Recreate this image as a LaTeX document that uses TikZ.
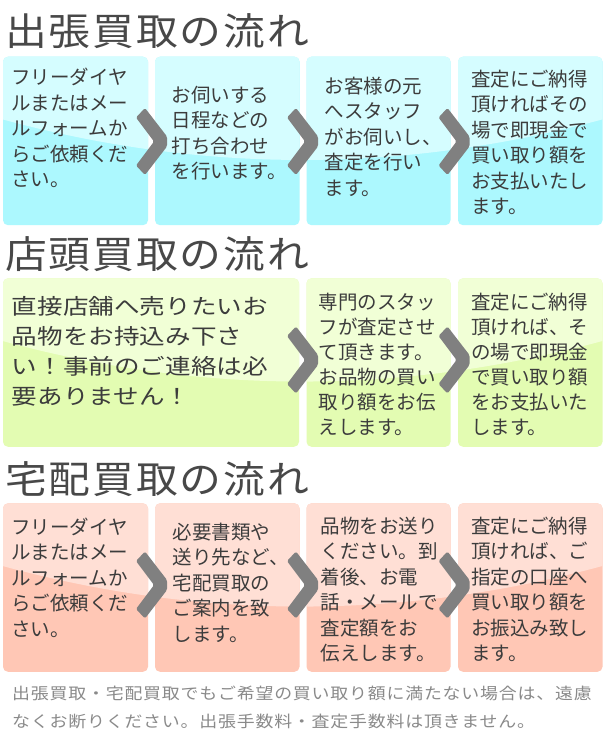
\documentclass[tikz,border=0pt]{standalone}
\usepackage{fontspec}
\setmainfont{Noto Sans CJK JP}
\newfontfamily\ttlfont[FakeStretch=1.1,LetterSpace=5]{Noto Sans CJK JP}
\newfontfamily\bigfont[FakeStretch=1.19]{Noto Sans CJK JP}
\newfontfamily\ftfont[FakeStretch=1.12,LetterSpace=5]{Noto Sans CJK JP}
\definecolor{cyD}{RGB}{172,248,254}
\definecolor{cyL}{RGB}{213,253,255}
\definecolor{grD}{RGB}{227,252,178}
\definecolor{grL}{RGB}{241,255,214}
\definecolor{pkD}{RGB}{255,199,181}
\definecolor{pkL}{RGB}{255,223,213}
\definecolor{txtc}{RGB}{60,60,60}
\definecolor{ttlc}{RGB}{72,72,72}
\definecolor{chevc}{RGB}{128,128,128}
\definecolor{ftc}{RGB}{138,138,138}
\newcommand\lns[1]{\begin{tabular}[t]{@{}l@{}}#1\end{tabular}}
\tikzset{
  boxn/.style={rectangle, rounded corners=5pt, inner sep=0pt, outer sep=0pt, draw=none},
  txt/.style={anchor=base west, inner sep=0pt, outer sep=0pt, text=txtc, font=\fontsize{19.5}{25.5}\selectfont},
  txtb/.style={txt, font=\bigfont\fontsize{21.5}{30}\selectfont},
  ttl/.style={anchor=base west, inner sep=0pt, text=ttlc, font=\ttlfont\fontsize{38}{40}\selectfont},
  foot/.style={anchor=base west, inner sep=0pt, text=ftc, font=\ftfont\fontsize{16}{28}\selectfont},
  chevron/.style={fill=chevc, rounded corners=1.5pt}
}
% name, x, top, width, dark, light
\newcommand\flowbox[6]{%
  \node[boxn, fill=#5, minimum width=#4pt, minimum height=168.5pt, anchor=north west] (#1) at (#2,#3) {};
  \begin{scope}
    \clip[rounded corners=5pt] (#1.south west) rectangle (#1.north east);
    \fill[#6] (0,#3-5) -- (0,#3+62) .. controls (201,#3+117) and (403,#3+117) .. (605,#3+62) -- (605,#3-5) -- cycle;
  \end{scope}}
\newcommand\chev[2]{%
  \fill[chevron, shift={(#1,#2)}] (-15.5,-24) -- (-6.5,-33.5) -- (15.5,-5) -- (15.5,5) -- (-6.5,33.5) -- (-15.5,24) -- (2.5,0) -- cycle;}
\begin{document}
\begin{tikzpicture}[x=1pt,y=-1pt]
\useasboundingbox (0,0) rectangle (605,739);
\fill[white] (0,0) rectangle (605,739);

% ---------- section 1 ----------
\node[ttl] (t1) at (5,45) {出張買取の流れ};
\flowbox{a1}{3}{56.7}{145}{cyD}{cyL}
\flowbox{a2}{155}{56.7}{144.5}{cyD}{cyL}
\flowbox{a3}{306.5}{56.7}{144}{cyD}{cyL}
\flowbox{a4}{458}{56.7}{144.5}{cyD}{cyL}
\chev{151.5}{141.5}
\chev{302.5}{141.5}
\chev{454}{141.5}
\node[txt] (a1t) at (11.5,84.5) {\lns{フリーダイヤ\\ルまたはメー\\ルフォームか\\らご依頼くだ\\さい。}};
\node[txt] (a2t) at (171.5,102.4) {\lns{お伺いする\\日程などの\\打ち合わせ\\を行います。}};
\node[txt] (a3t) at (324.5,93.4) {\lns{お客様の元\\へスタッフ\\がお伺いし、\\査定を行い\\ます。}};
\node[txt] (a4t) at (471,86.4) {\lns{査定にご納得\\頂ければその\\場で即現金で\\買い取り額を\\お支払いたし\\ます。}};

% ---------- section 2 ----------
\node[ttl] (t2) at (5,268) {店頭買取の流れ};
\flowbox{b1}{3}{278.3}{296}{grD}{grL}
\flowbox{b3}{306.5}{278.3}{144}{grD}{grL}
\flowbox{b4}{458}{278.3}{144.5}{grD}{grL}
\chev{302.5}{360}
\chev{454}{360}
\node[txtb] (b1t) at (12,314.2) {\lns{直接店舗へ売りたいお\\品物をお持込み下さ\\い！事前のご連絡は必\\要ありません！}};
\node[txt, font=\fontsize{19.5}{25}\selectfont] (b3t) at (318.5,309.4) {\lns{専門のスタッ\\フが査定させ\\て頂きます。\\お品物の買い\\取り額をお伝\\えします。}};
\node[txt, font=\fontsize{19.5}{25}\selectfont] (b4t) at (471,309.4) {\lns{査定にご納得\\頂ければ、そ\\の場で即現金\\で買い取り額\\をお支払いた\\します。}};

% ---------- section 3 ----------
\node[ttl] (t3) at (5,493) {宅配買取の流れ};
\flowbox{c1}{3}{503.3}{145}{pkD}{pkL}
\flowbox{c2}{155}{503.3}{144.5}{pkD}{pkL}
\flowbox{c3}{306.5}{503.3}{144}{pkD}{pkL}
\flowbox{c4}{458}{503.3}{144.5}{pkD}{pkL}
\chev{151.5}{585}
\chev{302.5}{585}
\chev{454}{585}
\node[txt] (c1t) at (11.5,534.4) {\lns{フリーダイヤ\\ルまたはメー\\ルフォームか\\らご依頼くだ\\さい。}};
\node[txt] (c2t) at (172.5,539.4) {\lns{必要書類や\\送り先など、\\宅配買取の\\ご案内を致\\します。}};
\node[txt] (c3t) at (320.5,533.4) {\lns{品物をお送り\\ください。到\\着後、お電\\話・メールで\\査定額をお\\伝えします。}};
\node[txt] (c4t) at (471,533.4) {\lns{査定にご納得\\頂ければ、ご\\指定の口座へ\\買い取り額を\\お振込み致し\\ます。}};

% ---------- footer ----------
\node[foot] (ft) at (12,699.6) {\lns{出張買取・宅配買取でもご希望の買い取り額に満たない場合は、遠慮\\なくお断りください。出張手数料・査定手数料は頂きません。}};
\end{tikzpicture}
\end{document}
